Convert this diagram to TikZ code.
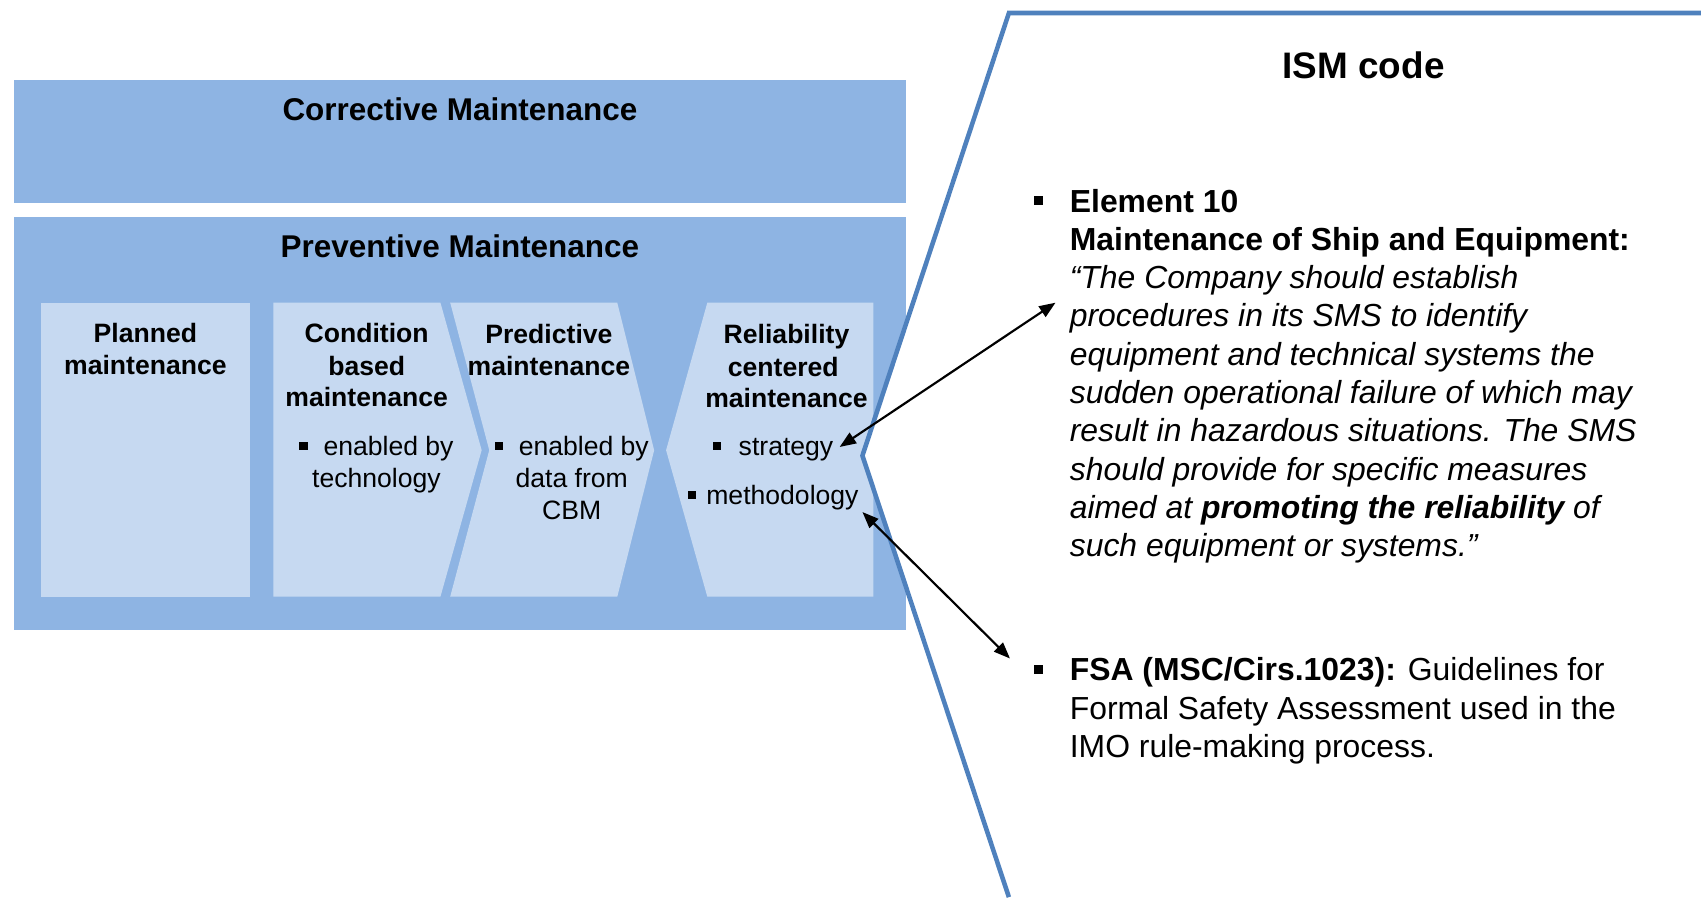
\documentclass[tikz,border=0pt]{standalone}
\usepackage{fontspec}
\setmainfont{Liberation Sans}
\usetikzlibrary{arrows.meta}
\definecolor{outerblue}{HTML}{8EB4E3}
\definecolor{innerblue}{HTML}{C6D9F1}
\definecolor{ismblue}{HTML}{4F81BD}
\newcommand\sqbul[1]{\raisebox{0.19em}{\rule{#1em}{#1em}}}
\begin{document}
\begin{tikzpicture}[x=1pt,y=-1pt,
  outer/.style={fill=outerblue},
  inner/.style={fill=innerblue},
  title/.style={inner sep=0, anchor=base, font=\fontsize{29}{35}\selectfont\bfseries},
  lbl/.style={inner sep=0, anchor=base, font=\fontsize{24.5}{29.5}\selectfont\bfseries},
  txt/.style={inner sep=0, anchor=base, font=\fontsize{24.5}{29.5}\selectfont},
  txtl/.style={inner sep=0, anchor=base west, font=\fontsize{24.5}{29.5}\selectfont},
  rtxt/.style={inner sep=0, anchor=base west, font=\fontsize{29.4}{35.3}\selectfont},
  ismline/.style={draw=ismblue, line width=4.2pt, line join=miter},
  arr/.style={{Triangle[length=15pt,width=11.5pt]}-{Triangle[length=15pt,width=11.5pt]}, line width=2pt, black}
]
\useasboundingbox (0,0) rectangle (1568,827);
% outer boxes
\fill[outer] (13,74) rectangle (835,187);
\fill[outer] (13,200) rectangle (835,581);
\node[title] (corr) at (424,111.4) {Corrective Maintenance};
\node[title] (prev) at (424,237.4) {Preventive Maintenance};
% inner shapes
\fill[inner] (38,279) rectangle (230,550);
\fill[inner] (252,279) -- (406,279) -- (444,415) -- (406,550) -- (252,550) -- cycle;
\fill[inner] (415,279) -- (569,279) -- (603,415) -- (569,550) -- (415,550) -- (451,415) -- cycle;
\fill[inner] (652,279) -- (805,279) -- (805,550) -- (652,550) -- (614,415) -- cycle;
% planned
\node[lbl] (p1) at (134,315.8) {Planned};
\node[lbl] (p2) at (134,344.8) {maintenance};
% condition based
\node[lbl] (c1) at (338,315.8) {Condition};
\node[lbl] (c2) at (338,345.8) {based};
\node[lbl] (c3) at (338,374.8) {maintenance};
\node[txt] (c4) at (347,419.8) {\sqbul{0.31}\hspace{0.6em}enabled by};
\node[txt] (c5) at (347,449.8) {technology};
% predictive
\node[lbl] (d1) at (506,316.8) {Predictive};
\node[lbl] (d2) at (506,345.8) {maintenance};
\node[txt] (d3) at (527,419.8) {\sqbul{0.31}\hspace{0.6em}enabled by};
\node[txt] (d4) at (527,449.8) {data from};
\node[txt] (d5) at (527,478.8) {CBM};
% reliability
\node[lbl] (e1) at (725,316.8) {Reliability};
\node[lbl] (e2) at (722,346.8) {centered};
\node[lbl] (e3) at (725,375.8) {maintenance};
\node[txtl] (strat) at (657,419.8) {\sqbul{0.31}\hspace{0.66em}strategy};
\node[txtl] (meth) at (634,464.8) {\sqbul{0.31}\hspace{0.38em}methodology};
% ISM shape
\fill[white] (1568,12) -- (930,12) -- (795,420) -- (930,827) -- (1568,827) -- cycle;
\draw[ismline] (1568,12) -- (930,12) -- (795,420) -- (930,827);
\node[inner sep=0, anchor=base, font=\fontsize{34}{40}\selectfont\bfseries] (ism) at (1257,72) {ISM code};
% element 10
\fill (953,181) rectangle (961,189);
\node[rtxt] (r1) at (986,195.5) {\bfseries Element 10};
\node[rtxt] (r2) at (986,230.8) {\bfseries Maintenance of Ship and Equipment:};
\node[rtxt] (r3) at (986,266.1) {\itshape “The Company should establish};
\node[rtxt] (r4) at (986,301.4) {\itshape procedures in its SMS to identify};
\node[rtxt] (r5) at (986,336.7) {\itshape equipment and technical systems the};
\node[rtxt] (r6) at (986,372.0) {\itshape sudden operational failure of which may};
\node[rtxt] (r7) at (986,407.3) {\itshape result in hazardous situations. The SMS};
\node[rtxt] (r8) at (986,442.6) {\itshape should provide for specific measures};
\node[rtxt] (r9) at (986,477.9) {\itshape aimed at \textbf{promoting the reliability} of};
\node[rtxt] (r10) at (986,513.2) {\itshape such equipment or systems.”};
% FSA
\fill (953,613) rectangle (961,621);
\node[rtxt] (f1) at (986,627.5) {\textbf{FSA (MSC/Cirs.1023):} Guidelines for};
\node[rtxt] (f2) at (986,662.8) {Formal Safety Assessment used in the};
\node[rtxt] (f3) at (986,698.1) {IMO rule-making process.};
% arrows
\coordinate (a1) at (973,279);
\coordinate (a2) at (774,412);
\coordinate (b1) at (795,472);
\coordinate (b2) at (931,607);
\draw[arr] (a1) -- (a2);
\draw[arr] (b1) -- (b2);
\end{tikzpicture}
\end{document}
